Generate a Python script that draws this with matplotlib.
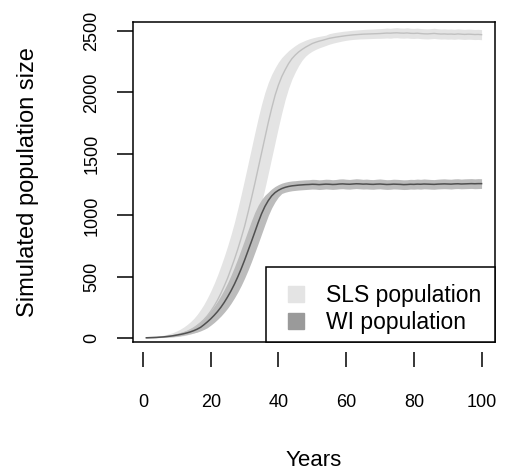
import numpy as np
import matplotlib
matplotlib.use("Agg")
import matplotlib.pyplot as plt
from matplotlib.lines import Line2D
from matplotlib.patches import Rectangle

plt.rcParams['font.family'] = ['Liberation Sans', 'DejaVu Sans']

years = np.arange(1, 101)

# SLS population: mean and band (lower / upper)
sls_mean = [4, 5, 6, 7, 9, 11, 14, 18, 23, 29,
            36, 45, 56, 69, 85, 104, 126, 152, 183, 220,
            262, 310, 365, 425, 490, 565, 642, 725, 815, 910,
            1020, 1135, 1255, 1380, 1505, 1630, 1755, 1870, 1975, 2060,
            2130, 2185, 2235, 2275, 2305, 2330, 2350, 2368, 2383, 2398,
            2408, 2417, 2424, 2432, 2440, 2445, 2450, 2454, 2458, 2462,
            2465, 2468, 2470, 2472, 2474, 2475, 2476, 2477, 2478, 2479,
            2481, 2483, 2482, 2484, 2485, 2483, 2482, 2484, 2481, 2480,
            2482, 2479, 2477, 2476, 2478, 2480, 2477, 2475, 2476, 2474,
            2475, 2473, 2476, 2474, 2472, 2474, 2473, 2471, 2472, 2470]
sls_low = [3, 4, 4, 5, 5, 6, 7, 8, 10, 13,
           17, 21, 27, 34, 42, 53, 65, 80, 98, 119,
           144, 174, 209, 249, 296, 348, 407, 470, 542, 619,
           700, 788, 881, 987, 1100, 1219, 1342, 1467, 1592, 1717,
           1835, 1943, 2034, 2109, 2168, 2220, 2263, 2295, 2318, 2336,
           2350, 2362, 2372, 2382, 2392, 2400, 2407, 2413, 2419, 2424,
           2428, 2431, 2433, 2435, 2436, 2437, 2438, 2439, 2440, 2440,
           2441, 2443, 2441, 2444, 2445, 2442, 2441, 2443, 2440, 2439,
           2441, 2438, 2436, 2435, 2437, 2439, 2436, 2434, 2435, 2433,
           2434, 2432, 2435, 2433, 2431, 2433, 2432, 2430, 2431, 2429]
sls_high = [8, 10, 13, 15, 20, 25, 31, 39, 48, 60,
            74, 91, 111, 134, 161, 194, 233, 276, 327, 383,
            445, 513, 588, 667, 752, 844, 943, 1055, 1171, 1293,
            1418, 1543, 1668, 1790, 1902, 2000, 2081, 2147, 2200, 2247,
            2284, 2313, 2340, 2362, 2382, 2400, 2413, 2425, 2435, 2443,
            2450, 2456, 2461, 2466, 2478, 2484, 2489, 2493, 2497, 2500,
            2503, 2506, 2508, 2510, 2512, 2514, 2515, 2516, 2518, 2519,
            2521, 2524, 2522, 2525, 2527, 2524, 2523, 2526, 2522, 2521,
            2523, 2520, 2518, 2517, 2519, 2522, 2518, 2516, 2517, 2515,
            2516, 2514, 2517, 2515, 2513, 2515, 2514, 2512, 2513, 2511]

# WI population
wi_mean = [4, 5, 6, 7, 9, 11, 14, 17, 21, 26,
           31, 37, 44, 52, 62, 74, 89, 110, 133, 158,
           186, 217, 252, 292, 337, 386, 440, 500, 565, 635,
           710, 785, 862, 940, 1012, 1072, 1120, 1158, 1185, 1204,
           1218, 1228, 1235, 1240, 1243, 1246, 1248, 1250, 1251, 1253,
           1252, 1250, 1252, 1254, 1253, 1251, 1252, 1255, 1256, 1254,
           1253, 1255, 1257, 1256, 1254, 1255, 1253, 1252, 1254, 1255,
           1253, 1251, 1252, 1254, 1253, 1252, 1250, 1251, 1253, 1252,
           1254, 1253, 1255, 1254, 1253, 1252, 1254, 1255, 1256, 1255,
           1254, 1256, 1257, 1255, 1256, 1257, 1258, 1257, 1258, 1258]
wi_low = [3, 4, 4, 5, 6, 7, 9, 11, 13, 16,
          20, 25, 30, 36, 43, 50, 60, 72, 86, 106,
          128, 153, 180, 211, 245, 284, 328, 376, 429, 488,
          552, 621, 695, 770, 847, 924, 998, 1060, 1110, 1150,
          1178, 1188, 1195, 1200, 1203, 1206, 1208, 1210, 1212, 1214,
          1213, 1210, 1212, 1215, 1213, 1211, 1213, 1216, 1217, 1214,
          1213, 1216, 1218, 1216, 1214, 1215, 1213, 1212, 1215, 1216,
          1213, 1211, 1212, 1215, 1214, 1212, 1210, 1211, 1214, 1213,
          1215, 1213, 1216, 1215, 1213, 1212, 1215, 1216, 1217, 1216,
          1214, 1217, 1218, 1216, 1217, 1218, 1219, 1217, 1218, 1219]
wi_high = [6, 7, 9, 12, 15, 18, 22, 27, 32, 38,
           46, 54, 64, 77, 93, 115, 138, 164, 192, 224,
           260, 301, 347, 397, 452, 513, 579, 650, 725, 800,
           878, 954, 1024, 1082, 1128, 1163, 1189, 1215, 1235, 1250,
           1262, 1270, 1276, 1280, 1282, 1285, 1287, 1289, 1290, 1293,
           1292, 1289, 1291, 1294, 1293, 1290, 1292, 1296, 1297, 1294,
           1292, 1295, 1298, 1296, 1293, 1295, 1292, 1291, 1294, 1296,
           1293, 1290, 1291, 1294, 1293, 1291, 1289, 1290, 1293, 1292,
           1295, 1293, 1296, 1294, 1292, 1291, 1294, 1296, 1297, 1295,
           1294, 1297, 1298, 1295, 1297, 1298, 1299, 1297, 1299, 1298]

xticks = [0, 20, 40, 60, 80, 100]
yticks = [0, 500, 1000, 1500, 2000, 2500]

fig = plt.figure(figsize=(5.06, 4.71), dpi=100)
ax = fig.add_axes([0.2628, 0.2745, 0.7154, 0.6788])

ax.fill_between(years, sls_low, sls_high, color='#e4e4e4', lw=0)
ax.plot(years, sls_mean, color='#c0c0c0', lw=1)
ax.fill_between(years, wi_low, wi_high, color='#bcbcbc', lw=0)
ax.plot(years, wi_mean, color='#505050', lw=1.1)

ax.set_xlim(-2.96, 103.96)
ax.set_ylim(-28, 2573)

for s in ax.spines.values():
    s.set_linewidth(1.1)

ax.set_yticks(yticks)
ax.tick_params(axis='y', length=11.5, width=1.1, pad=12, labelsize=13,
               labelrotation=90)
for lab in ax.get_yticklabels():
    lab.set_va('center')
ax.tick_params(axis='x', bottom=False, labelbottom=False)

secx = ax.secondary_xaxis(-0.031)
secx.spines['bottom'].set_visible(False)
secx.set_xticks(xticks)
secx.tick_params(axis='x', length=10.8, width=1.1, pad=20, labelsize=13)

fig.text(28 / 506, 1 - 182 / 471, 'Simulated population size', rotation=90,
         ha='center', va='center', fontsize=17)
fig.text(314 / 506, 1 - 461 / 471, 'Years', ha='center', va='center',
         fontsize=16)

# legend box (R style: touches the right and bottom of the plot box)
ax.add_patch(Rectangle((0.367, 0), 0.633, 0.2346, transform=ax.transAxes,
                       facecolor='white', edgecolor='black', lw=1.1,
                       zorder=4, clip_on=False))
handles = [Line2D([], [], ls='none', marker='s', markersize=11,
                  color='#e4e4e4', label='SLS population'),
           Line2D([], [], ls='none', marker='s', markersize=11,
                  color='#9a9a9a', label='WI population')]
leg = ax.legend(handles=handles, loc='center left',
                bbox_to_anchor=(0.3994, 0.1023), frameon=False,
                borderaxespad=0, borderpad=0, fontsize=16.5,
                labelspacing=0.2, handlelength=1.6, handletextpad=0.5)
leg.set_zorder(5)

fig.savefig('out.png', dpi=100)
